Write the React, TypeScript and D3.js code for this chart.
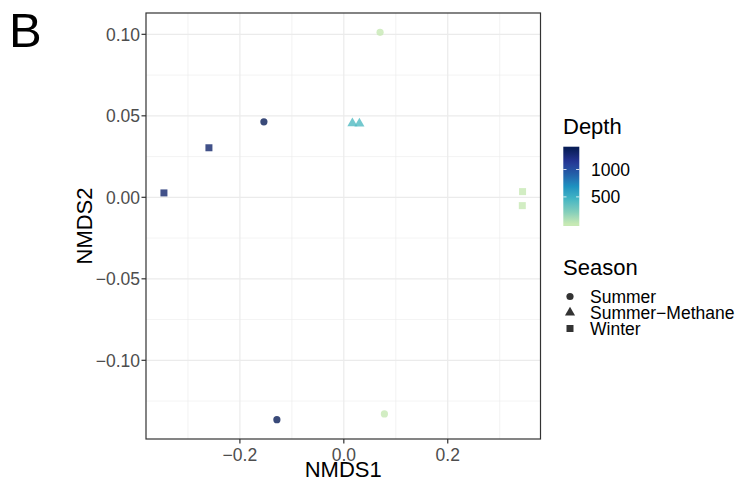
import React from "react";
import * as d3 from "d3";

// NMDS ordination scores per sample
const nmds1 = [0.0698, -0.1538, -0.2596, -0.3462, 0.0165, 0.030, 0.344, 0.3435, -0.1288, 0.0781];
const nmds2 = [0.1012, 0.0463, 0.0304, 0.0027, 0.0454, 0.0452, 0.0035, -0.0051, -0.1364, -0.1329];
const season = ["Summer", "Summer", "Winter", "Winter", "Summer\u2212Methane", "Summer\u2212Methane", "Winter", "Winter", "Summer", "Summer"];
const depth = [5, 1380, 1300, 1300, 420, 420, 5, 5, 1380, 5];

const seasonLevels = ["Summer", "Summer\u2212Methane", "Winter"];
const xTicks = [-0.2, 0, 0.2];
const xMinor = [-0.3, -0.1, 0.1, 0.3];
const yTicks = [0.1, 0.05, 0, -0.05, -0.1];
const yMinor = [0.075, 0.025, -0.025, -0.075, -0.125];
const depthBreaks = [500, 1000];
const palette = ["#c7e9b4", "#7fcdbb", "#41b6c4", "#1d91c0", "#225ea8", "#253494", "#081d58"];

const W = 739;
const H = 488;
const panel = { left: 146, right: 540.5, top: 13, bottom: 439 };
const FONT = "'Liberation Sans', Arial, Helvetica, sans-serif";

function expand(vals: number[]): [number, number] {
  const [lo, hi] = d3.extent(vals) as [number, number];
  const pad = (hi - lo) * 0.05;
  return [lo - pad, hi + pad];
}

const minus = (s: string) => s.replace("-", "\u2212");

function Shape({ kind, cx, cy, fill, opacity }: { kind: string; cx: number; cy: number; fill: string; opacity: number }) {
  const fs = 10;
  if (kind === "Summer") {
    return <circle cx={cx} cy={cy} r={3.6} fill={fill} fillOpacity={opacity} />;
  }
  if (kind === "Winter") {
    const s = 7;
    return <rect x={cx - s / 2} y={cy - s / 2} width={s} height={s} fill={fill} fillOpacity={opacity} />;
  }
  const xc = 0.375 * fs;
  const r = 1.555 * xc;
  const hw = 1.347 * xc;
  const yb = 0.777 * xc;
  const p = d3.path();
  p.moveTo(cx, cy - r);
  p.lineTo(cx + hw, cy + yb);
  p.lineTo(cx - hw, cy + yb);
  p.closePath();
  return <path d={p.toString()} fill={fill} fillOpacity={opacity} />;
}

export default function App() {
  const x = d3.scaleLinear().domain(expand(nmds1)).range([panel.left, panel.right]);
  const y = d3.scaleLinear().domain(expand(nmds2)).range([panel.bottom, panel.top]);

  const [dMin, dMax] = d3.extent(depth) as [number, number];
  const color = d3
    .scaleLinear<string>()
    .domain(palette.map((_, i) => dMin + (i / (palette.length - 1)) * (dMax - dMin)))
    .range(palette)
    .interpolate(d3.interpolateLab);

  // colour bar geometry
  const bar = { x: 563.3, w: 16, top: 146.7, bottom: 226 };
  const bh = bar.bottom - bar.top;
  const barY = d3
    .scaleLinear()
    .domain([dMin, dMax])
    .range([bar.bottom - 0.025 * bh, bar.top + 0.025 * bh]);
  const stops = d3.range(0, 21).map((i) => {
    const t = i / 20;
    return { off: t, col: color(dMin + t * (dMax - dMin)) };
  });

  const tickCol = "#333333";
  const labCol = "#4D4D4D";
  const grid = "#EBEBEB";
  const fmtX = (v: number) => minus(d3.format(".1f")(v));
  const fmtY = (v: number) => minus(d3.format(".2f")(v));

  const keyY = [296.5, 312.5, 328.5];

  return (
    <svg width={W} height={H} style={{ position: "absolute", left: 0, top: 0, background: "#fff" }} fontFamily={FONT}>
      <defs>
        <linearGradient id="depthGrad" x1="0" y1="1" x2="0" y2="0">
          {stops.map((s) => (
            <stop key={s.off} offset={0.025 + s.off * 0.95} stopColor={s.col} />
          ))}
        </linearGradient>
        <clipPath id="panelClip">
          <rect x={panel.left} y={panel.top} width={panel.right - panel.left} height={panel.bottom - panel.top} />
        </clipPath>
      </defs>
      <rect width={W} height={H} fill="#fff" />

      <text x={9} y={47} fontSize={49} fill="#000">B</text>

      {/* panel grid */}
      <g clipPath="url(#panelClip)">
        {xMinor.map((v) => (
          <line key={"xm" + v} x1={x(v)} x2={x(v)} y1={panel.top} y2={panel.bottom} stroke={grid} strokeWidth={0.6} />
        ))}
        {yMinor.map((v) => (
          <line key={"ym" + v} y1={y(v)} y2={y(v)} x1={panel.left} x2={panel.right} stroke={grid} strokeWidth={0.6} />
        ))}
        {xTicks.map((v) => (
          <line key={"xg" + v} x1={x(v)} x2={x(v)} y1={panel.top} y2={panel.bottom} stroke={grid} strokeWidth={1.2} />
        ))}
        {yTicks.map((v) => (
          <line key={"yg" + v} y1={y(v)} y2={y(v)} x1={panel.left} x2={panel.right} stroke={grid} strokeWidth={1.2} />
        ))}
        {nmds1.map((v, i) => (
          <Shape key={"pt" + i} kind={season[i]} cx={x(v)} cy={y(nmds2[i])} fill={color(depth[i])} opacity={0.8} />
        ))}
      </g>
      <rect
        x={panel.left}
        y={panel.top}
        width={panel.right - panel.left}
        height={panel.bottom - panel.top}
        fill="none"
        stroke={tickCol}
        strokeWidth={1.2}
      />

      {/* x axis */}
      {xTicks.map((v) => (
        <g key={"xt" + v}>
          <line x1={x(v)} x2={x(v)} y1={panel.bottom} y2={panel.bottom + 4.5} stroke={tickCol} strokeWidth={1.2} />
          <text x={x(v)} y={460.5} fontSize={17.5} fill={labCol} textAnchor="middle">
            {fmtX(v)}
          </text>
        </g>
      ))}
      <text x={(panel.left + panel.right) / 2} y={477} fontSize={22} fill="#000" textAnchor="middle">
        NMDS1
      </text>

      {/* y axis */}
      {yTicks.map((v) => (
        <g key={"yt" + v}>
          <line x1={panel.left - 4.5} x2={panel.left} y1={y(v)} y2={y(v)} stroke={tickCol} strokeWidth={1.2} />
          <text x={140} y={y(v) + 6.2} fontSize={17.5} fill={labCol} textAnchor="end">
            {fmtY(v)}
          </text>
        </g>
      ))}
      <text
        transform={`translate(92,${(panel.top + panel.bottom) / 2}) rotate(-90)`}
        fontSize={22}
        fill="#000"
        textAnchor="middle"
      >
        NMDS2
      </text>

      {/* Depth colour bar */}
      <text x={563} y={134} fontSize={22} fill="#000">Depth</text>
      <rect x={bar.x} y={bar.top} width={bar.w} height={bh} fill="url(#depthGrad)" />
      {depthBreaks.map((b) => (
        <g key={"db" + b}>
          <line x1={bar.x} x2={bar.x + bar.w / 5} y1={barY(b)} y2={barY(b)} stroke="#fff" strokeWidth={0.8} />
          <line x1={bar.x + bar.w - bar.w / 5} x2={bar.x + bar.w} y1={barY(b)} y2={barY(b)} stroke="#fff" strokeWidth={0.8} />
          <text x={591} y={barY(b) + 6.2} fontSize={17.5} fill="#000">
            {b}
          </text>
        </g>
      ))}

      {/* Season legend */}
      <text x={563} y={274.5} fontSize={22} fill="#000">Season</text>
      {seasonLevels.map((s, i) => (
        <g key={"sk" + s}>
          <Shape kind={s} cx={570} cy={keyY[i]} fill="#000" opacity={0.8} />
          <text x={590} y={keyY[i] + 6.2} fontSize={17.5} fill="#000">
            {s}
          </text>
        </g>
      ))}
    </svg>
  );
}
